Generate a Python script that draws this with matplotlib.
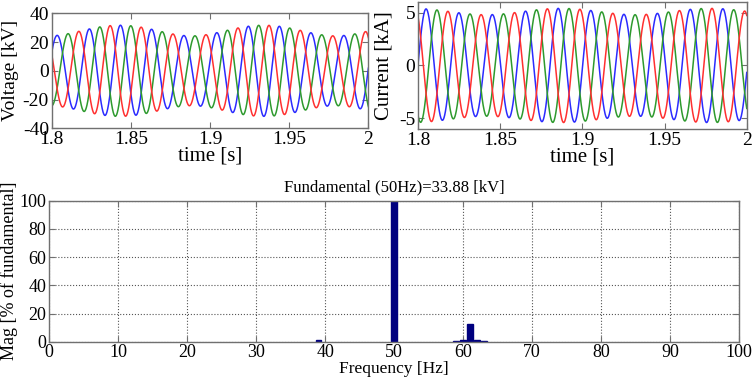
import numpy as np
import matplotlib.pyplot as plt

plt.rcParams['font.family'] = ['Liberation Serif', 'DejaVu Serif']
plt.rcParams['axes.unicode_minus'] = False

# Параметры трёхфазных сигналов
# (основная гармоника и интергармоника: частота, амплитуда, фаза фазы A в момент 1.8 с)
v_freq = [49.7, 60.7]
v_amp = [28.0, 3.7]
v_phase = [-57.0, -227.0]

i_freq = [49.85, 60.85]
i_amp = [5.1, 0.3]
i_phase = [-90.0, -74.0]

phase_colors = ['#2b2bff', '#2e9a2e', '#ff3030']
phase_shift = [0.0, -120.0, -240.0]

# Спектр напряжения (% от основной)
fft_freq = [39, 50, 59, 60, 61, 62, 63]
fft_mag = [1.4, 100.0, 0.4, 1.2, 12.3, 1.0, 0.5]

time_ticks = [1.8, 1.85, 1.9, 1.95, 2.0]
time_labels = ['1.8', '1.85', '1.9', '1.95', '2']

t = np.linspace(1.8, 2.0, 3001)
tt = t - 1.8


def wave(freqs, amps, phases, shift):
    y = np.zeros_like(tt)
    for f, a, p in zip(freqs, amps, phases):
        y += a * np.cos(2 * np.pi * f * tt + np.deg2rad(p + shift))
    return y


def matlab_style(ax, fs):
    for s in ax.spines.values():
        s.set_color('#707070')
        s.set_linewidth(1.0)
    ax.tick_params(direction='in', top=True, right=True, labelsize=fs,
                   length=4, color='#707070', pad=2)


fig = plt.figure(figsize=(7.54, 3.81), dpi=100)

# Напряжение
ax1 = fig.add_axes([0.0686, 0.6633, 0.420, 0.3018])
for c, s in zip(phase_colors, phase_shift):
    ax1.plot(t, wave(v_freq, v_amp, v_phase, s), color=c, lw=1.1)
ax1.set_xlim(1.8, 2.0)
ax1.set_ylim(-40, 40)
ax1.set_yticks([-40, -20, 0, 20, 40])
ax1.set_xticks(time_ticks)
ax1.set_xticklabels(time_labels)
ax1.set_xlabel('time [s]', fontsize=15, labelpad=-1)
ax1.set_ylabel('Voltage [kV]', fontsize=14)
ax1.yaxis.set_label_coords(-0.102, 0.5)
matlab_style(ax1, 14)

# Ток
ax2 = fig.add_axes([0.5544, 0.6617, 0.436, 0.333])
for c, s in zip(phase_colors, phase_shift):
    ax2.plot(t, wave(i_freq, i_amp, i_phase, s), color=c, lw=1.1)
ax2.set_xlim(1.8, 2.0)
ax2.set_ylim(-6, 6)
ax2.set_yticks([-5, 0, 5])
ax2.set_xticks(time_ticks)
ax2.set_xticklabels(time_labels)
ax2.set_xlabel('time [s]', fontsize=15, labelpad=-1)
ax2.set_ylabel('Current [kA]', fontsize=15, labelpad=4)
matlab_style(ax2, 14)

# Спектр
ax3 = fig.add_axes([0.0654, 0.1031, 0.9147, 0.370])
ax3.bar(fft_freq, fft_mag, width=0.8, color='#00007f', edgecolor='#00007f')
ax3.set_xlim(0, 100)
ax3.set_ylim(0, 100)
ax3.set_xticks(np.arange(0, 101, 10))
ax3.set_yticks(np.arange(0, 101, 20))
ax3.grid(True, linestyle=':', color='#555555', linewidth=0.8)
ax3.set_axisbelow(True)
ax3.set_title('Fundamental (50Hz)=33.88 [kV]', fontsize=12, pad=7)
ax3.set_xlabel('Frequency [Hz]', fontsize=12.5, labelpad=0)
ax3.set_ylabel('Mag [% of fundamental]', fontsize=13, labelpad=1)
matlab_style(ax3, 13)

plt.savefig('out.png', dpi=100)
